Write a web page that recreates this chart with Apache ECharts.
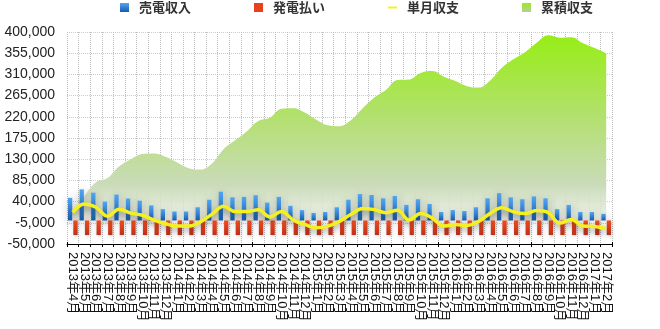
<!DOCTYPE html>
<html>
<head>
<meta charset="utf-8">
<script src="https://cdn.jsdelivr.net/npm/echarts@6/dist/echarts.min.js"></script>
<style>
  html, body { margin: 0; padding: 0; background: #fff; }
  #chart { width: 660px; height: 329px; }
</style>
</head>
<body>
<div id="chart"></div>
<script>
// Months shown on the category axis
const months = [
  '2013年4月','2013年5月','2013年6月','2013年7月','2013年8月','2013年9月','2013年10月','2013年11月','2013年12月',
  '2014年1月','2014年2月','2014年3月','2014年4月','2014年5月','2014年6月','2014年7月','2014年8月','2014年9月','2014年10月','2014年11月','2014年12月',
  '2015年1月','2015年2月','2015年3月','2015年4月','2015年5月','2015年6月','2015年7月','2015年8月','2015年9月','2015年10月','2015年11月','2015年12月',
  '2016年1月','2016年2月','2016年3月','2016年4月','2016年5月','2016年6月','2016年7月','2016年8月','2016年9月','2016年10月','2016年11月','2016年12月',
  '2017年1月','2017年2月'
];

// 売電収入 (monthly sales income, yen)
const salesIncome = [
  48000, 66000, 59000, 40000, 55000, 46500, 42000, 32000, 24000,
  19000, 19000, 28000, 44000, 61000, 49000, 50000, 53500, 38000, 50000, 31000, 22000,
  16000, 18000, 28000, 44000, 56000, 54000, 47000, 52000, 33000, 45000, 35000, 18000,
  22000, 20000, 28000, 47000, 58000, 49000, 45000, 51000, 47000, 24000, 33000, 18000,
  18000, 14000
];

// 発電払い (monthly payment, yen)
const payments = [
  -31000, -31000, -31000, -31000, -31000, -31000, -31000, -31000, -31000,
  -31000, -31000, -31000, -31000, -31000, -31000, -31000, -31000, -31000, -31000, -31000, -31000,
  -31000, -31000, -31000, -31000, -31000, -31000, -31000, -31000, -31000, -31000, -31000, -31000,
  -31000, -31000, -31000, -31000, -31000, -31000, -31000, -31000, -31000, -31000, -31000, -31000,
  -31000, -31000
];

// 単月収支 (monthly balance, yen)
const monthlyBalance = [
  17000, 35000, 28000, 9000, 24000, 15500, 11000, 1000, -7000,
  -12000, -12000, -3000, 13000, 30000, 19000, 19000, 22500, 7500, 19000, 1000, -8500,
  -15500, -12000, -2000, 13000, 25500, 23000, 16500, 21500, 1000, 14500, 5000, -12000,
  -8500, -10500, -2000, 15000, 27000, 18500, 14500, 21000, 16500, -5500, 2000, -12000,
  -13000, -17000
];

// 累積収支 (running balance, yen)
const cumulativeBalance = [
  17000, 52000, 81000, 90000, 115000, 130000, 141000, 142000, 135000,
  123000, 111000, 108000, 121000, 151000, 170000, 189000, 211000, 218000, 237000, 238000, 229000,
  214000, 202000, 200000, 213000, 238000, 261000, 277000, 298000, 299000, 313000, 317000, 305000,
  296000, 285000, 282000, 297000, 324000, 342000, 357000, 377000, 393000, 388000, 389000, 376000,
  366000, 355000
];

// Value axis range and step
const yMin = -50000;
const yMax = 400000;
const yStep = 45000;

const chart = echarts.init(document.getElementById('chart'), null, { renderer: 'canvas' });
const LG = echarts.graphic.LinearGradient;

const blueFill = new LG(0, 0, 0, 1, [
  { offset: 0, color: '#4ea6f4' },
  { offset: 1, color: '#1b5aa8' }
]);
const redFill = new LG(0, 0, 0, 1, [
  { offset: 0, color: '#f04c20' },
  { offset: 1, color: '#be2f18' }
]);
const greenArea = new LG(0, 32, 0, 222, [
  { offset: 0, color: '#96ee12' },
  { offset: 0.45, color: '#b3e070' },
  { offset: 0.8, color: '#cadbb8' },
  { offset: 1, color: 'rgba(232,238,226,0.75)' }
], true);
const greenIcon = new LG(0, 0, 0, 1, [
  { offset: 0, color: '#96ee12' },
  { offset: 1, color: '#b9c9a8' }
]);

const labelFont = '"Liberation Sans", "Noto Sans CJK JP", sans-serif';

const option = {
  animation: false,
  backgroundColor: '#ffffff',
  legend: {
    left: 120,
    top: 1,
    padding: 0,
    itemWidth: 9,
    itemHeight: 9,
    itemGap: 63,
    textStyle: {
      fontFamily: '"Noto Sans CJK JP", sans-serif',
      fontSize: 13,
      fontWeight: 'bold',
      color: '#333',
      padding: [0, 0, 0, 5]
    },
    data: [
      { name: '売電収入', icon: 'rect', itemStyle: { color: blueFill } },
      { name: '発電払い', icon: 'rect', itemStyle: { color: '#e8421c' } },
      { name: '単月収支', icon: 'path://M0,0 L10,0 L10,2.2 L0,2.2 Z', itemStyle: { color: '#f5f01e' } },
      { name: '累積収支', icon: 'rect', itemStyle: { color: greenIcon } }
    ]
  },
  grid: { left: 67, right: 48, top: 32, bottom: 85 },
  xAxis: [
    {
      type: 'category',
      data: months,
      boundaryGap: true,
      axisLine: { onZero: false, lineStyle: { color: '#000', width: 1 } },
      axisTick: { show: true, length: 3, lineStyle: { color: '#000' } },
      axisLabel: {
        interval: 0,
        rotate: -90,
        margin: 8,
        fontSize: 13,
        color: '#111',
        fontFamily: labelFont
      },
      splitLine: { show: true, lineStyle: { type: 'dotted', color: '#bbb' } }
    },
    {
      // inner half of the crossing tick marks
      type: 'category',
      data: months,
      position: 'bottom',
      boundaryGap: true,
      axisLine: { show: false, onZero: false },
      axisTick: { show: true, inside: true, length: 2, lineStyle: { color: '#000' } },
      axisLabel: { show: false },
      splitLine: { show: false }
    }
  ],
  yAxis: {
    type: 'value',
    min: yMin,
    max: yMax,
    interval: yStep,
    axisLine: { show: false },
    axisTick: { show: false },
    axisLabel: {
      margin: 12,
      fontSize: 14,
      color: '#222',
      fontFamily: labelFont,
      formatter: v => v.toLocaleString('en-US')
    },
    splitLine: { lineStyle: { type: 'dotted', color: '#ccc' } }
  },
  series: [
    {
      name: '累積収支',
      type: 'line',
      data: cumulativeBalance,
      smooth: 0.4,
      showSymbol: false,
      z: 1,
      lineStyle: { opacity: 0 },
      itemStyle: { color: '#96ee12' },
      areaStyle: { color: greenArea, opacity: 1 }
    },
    {
      name: '売電収入',
      type: 'bar',
      data: salesIncome,
      barWidth: 4.3,
      barGap: '25%',
      z: 3,
      itemStyle: {
        color: blueFill,
        shadowColor: 'rgba(0,0,0,0.3)',
        shadowBlur: 8,
        shadowOffsetX: 1,
        shadowOffsetY: 2
      }
    },
    {
      name: '発電払い',
      type: 'bar',
      data: payments,
      barWidth: 4.3,
      barGap: '25%',
      z: 3,
      itemStyle: {
        color: redFill,
        shadowColor: 'rgba(0,0,0,0.2)',
        shadowBlur: 4,
        shadowOffsetX: 1,
        shadowOffsetY: 1
      }
    },
    {
      name: '単月収支',
      type: 'line',
      data: monthlyBalance,
      smooth: 0.4,
      showSymbol: false,
      z: 5,
      itemStyle: { color: '#f5f01e' },
      lineStyle: {
        color: '#f5f01e',
        width: 3.5,
        shadowColor: 'rgba(0,0,0,0.35)',
        shadowBlur: 6,
        shadowOffsetY: 3
      }
    }
  ]
};

chart.setOption(option);
</script>
</body>
</html>
